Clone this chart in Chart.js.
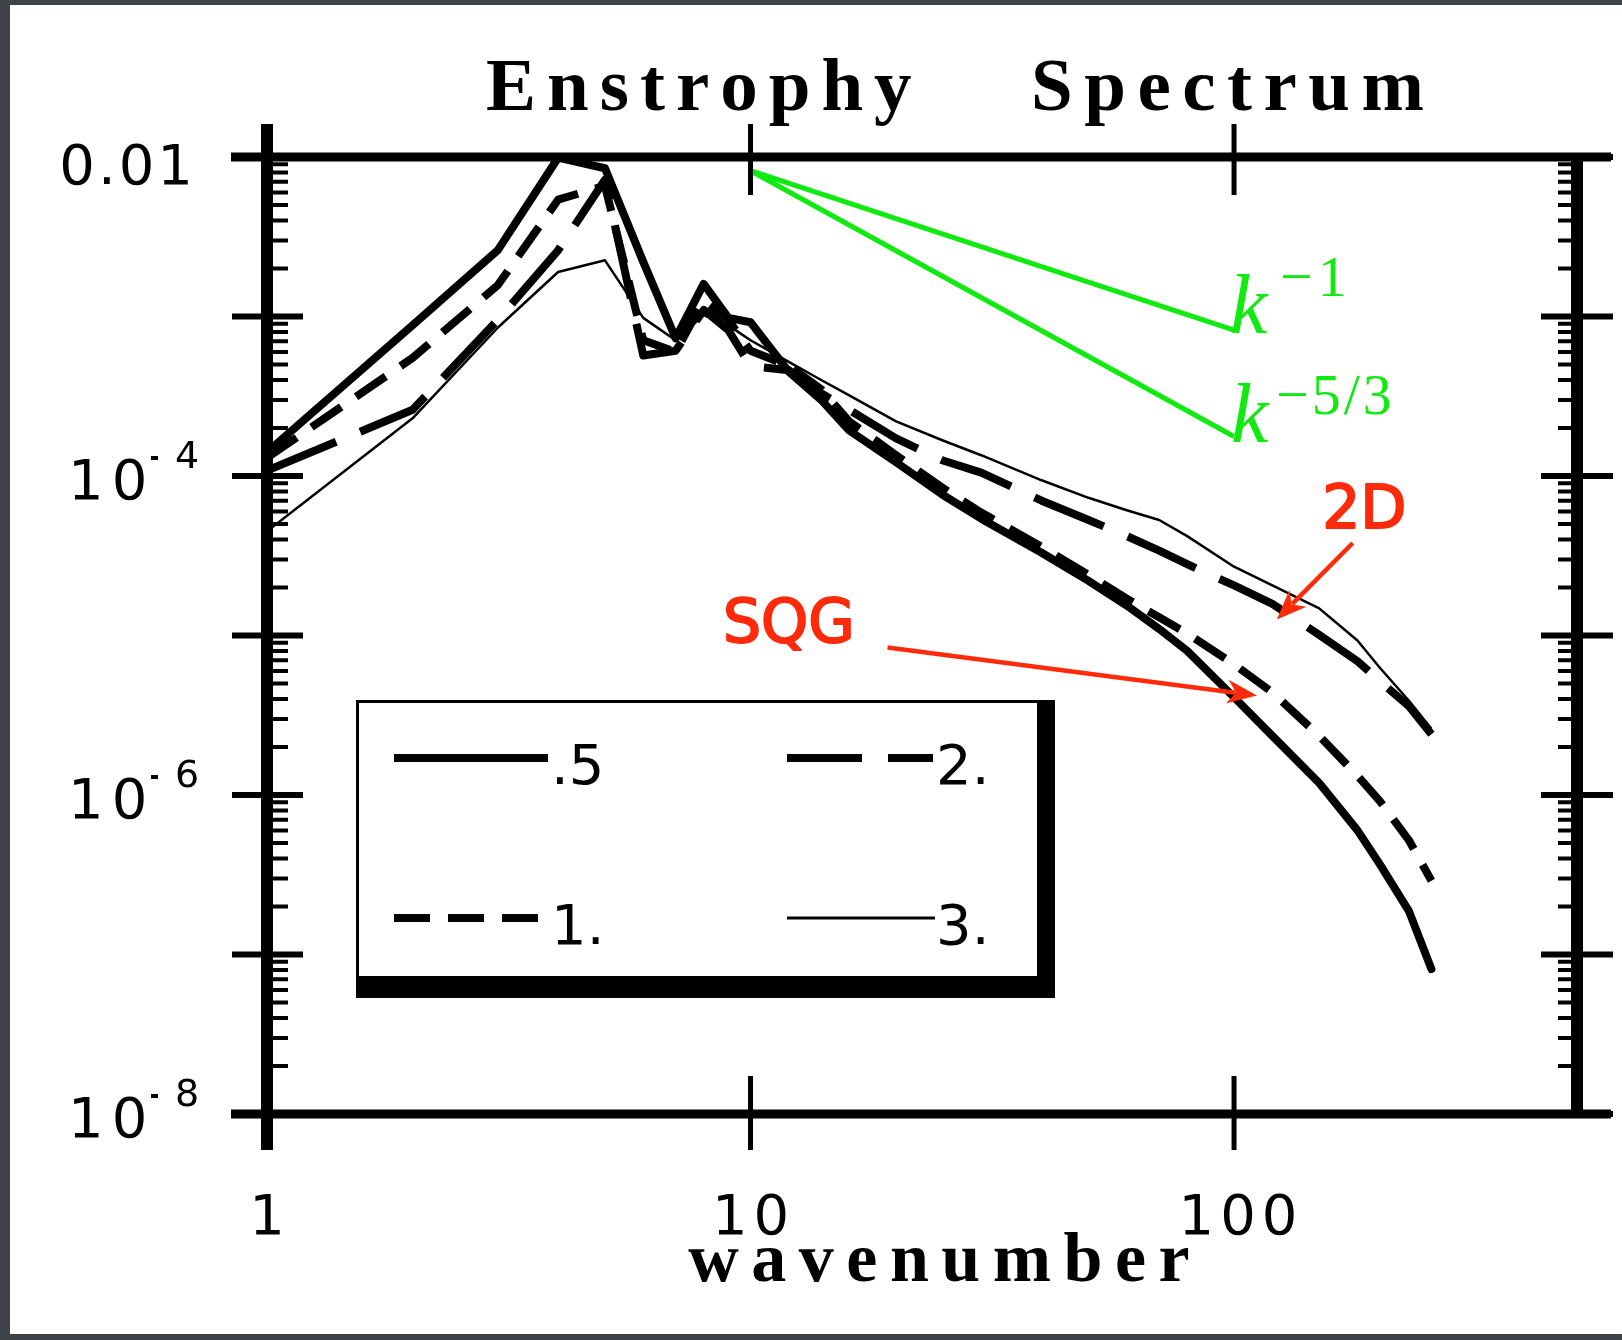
<!DOCTYPE html>
<html>
<head>
<meta charset="utf-8">
<title>Enstrophy Spectrum</title>
<script src="https://cdn.jsdelivr.net/npm/chart.js@4.4.1/dist/chart.umd.min.js"></script>
<style>
  html, body { margin: 0; padding: 0; }
  body { width: 1622px; height: 1340px; background: #3f4247; position: relative; overflow: hidden; }
  #paper { position: absolute; left: 10px; top: 5px; width: 1612px; height: 1329px; background: #fff; }
  #wrap { position: absolute; left: 0; top: 0; width: 1622px; height: 1340px; }
</style>
</head>
<body>
<div id="paper"></div>
<div id="wrap"><canvas id="chart"></canvas></div>
<script>
const wavenumber = [1, 2, 3, 4, 5, 6, 7, 8, 9, 10, 12, 14, 16, 20, 25, 30, 40, 50, 60, 70, 80, 100, 120, 150, 180, 200, 230, 256];

// enstrophy spectra, one per case
const spec05 = [1.41e-4, 8.8e-4, 2.6e-3, 9.9e-3, 8.5e-3, 2.2e-3, 7.3e-4, 1.6e-3, 9.8e-4, 9.2e-4, 4.5e-4, 3.0e-4, 1.93e-4, 1.22e-4, 7.6e-5, 5.4e-5, 3.3e-5, 2.2e-5, 1.54e-5, 1.10e-5, 8.0e-6, 4.1e-6, 2.35e-6, 1.19e-6, 6.0e-7, 3.7e-7, 1.87e-7, 8.1e-8];
const spec1 = [1.30e-4, 5.5e-4, 1.57e-3, 5.4e-3, 6.6e-3, 7.1e-4, 6.0e-4, 1.26e-3, 9.5e-4, 6.1e-4, 4.9e-4, 3.5e-4, 2.2e-4, 1.35e-4, 8.4e-5, 5.9e-5, 3.6e-5, 2.4e-5, 1.70e-5, 1.30e-5, 1.03e-5, 6.6e-6, 4.4e-6, 2.35e-6, 1.32e-6, 9.2e-7, 5.2e-7, 2.9e-7];
const spec2 = [1.08e-4, 2.6e-4, 9.5e-4, 2.6e-3, 7.2e-3, 5.7e-4, 6.1e-4, 1.10e-3, 8.2e-4, 4.9e-4, 4.6e-4, 3.3e-4, 2.6e-4, 1.72e-4, 1.25e-4, 1.05e-4, 7.0e-5, 5.3e-5, 4.2e-5, 3.4e-5, 2.8e-5, 2.06e-5, 1.58e-5, 1.01e-5, 6.9e-6, 5.2e-6, 3.6e-6, 2.4e-6];
const spec3 = [4.5e-5, 2.3e-4, 8.5e-4, 1.9e-3, 2.25e-3, 9.8e-4, 7.1e-4, 1.02e-3, 8.8e-4, 7.1e-4, 5.2e-4, 4.0e-4, 3.2e-4, 2.2e-4, 1.67e-4, 1.35e-4, 9.4e-5, 7.3e-5, 6.1e-5, 5.3e-5, 4.2e-5, 2.7e-5, 2.06e-5, 1.48e-5, 9.3e-6, 6.3e-6, 3.9e-6, 2.6e-6];
const seriesNames = [".5", "1.", "2.", "3."];

// reference slopes drawn in green
const slopeK = [10, 100];
const slopeMinus1 = [0.0082, 0.00082];
const slopeMinus53 = [0.0082, 0.000177];

// red annotations (data coordinates)
const label2D = [186, 5.9e-5];
const arrow2D = [[176, 3.8e-5], [122.6, 1.26e-5]];
const labelSQG = [12.0, 1.14e-5];
const arrowSQG = [[19.2, 8.4e-6], [111.5, 4.2e-6]];

// axis ticks
const xTicks = [1, 10, 100];
const xTickLabels = ["1", "10", "100"];
const yMajor = [1e-2, 1e-3, 1e-4, 1e-5, 1e-6, 1e-7, 1e-8];
const yLabelValues = [1e-2, 1e-4, 1e-6, 1e-8];
const yLabelBase = ["0.01", "10", "10", "10"];
const yLabelSup = ["", "4", "6", "8"];

const pts = (xs, ys) => xs.map((k, i) => ({ x: k, y: ys[i] }));

const LONG_DASH = [75, 26];
const SHORT_DASH = [36, 18];
const GREEN = "#10ea10";
const RED = "#ff2a0a";

function spacedWidth(ctx, text, gap) {
  let w = 0;
  for (const ch of text) w += ctx.measureText(ch).width + gap;
  return w - gap;
}
function spaced(ctx, text, x, y, gap) {
  let cx = x;
  for (const ch of text) {
    ctx.fillText(ch, cx, y);
    cx += ctx.measureText(ch).width + gap;
  }
}

function arrow(ctx, x0, y0, x1, y1) {
  const ang = Math.atan2(y1 - y0, x1 - x0);
  const len = 30, half = 12;
  const bx = x1 - Math.cos(ang) * len, by = y1 - Math.sin(ang) * len;
  ctx.beginPath();
  ctx.moveTo(x0, y0);
  ctx.lineTo(bx + Math.cos(ang) * 8, by + Math.sin(ang) * 8);
  ctx.stroke();
  ctx.beginPath();
  ctx.moveTo(x1, y1);
  ctx.lineTo(bx - Math.sin(ang) * half, by + Math.cos(ang) * half);
  ctx.lineTo(bx + Math.cos(ang) * 9, by + Math.sin(ang) * 9);
  ctx.lineTo(bx + Math.sin(ang) * half, by - Math.cos(ang) * half);
  ctx.closePath();
  ctx.fill();
}

const decorations = {
  id: "decorations",
  afterDatasetsDraw(chart) {
    const { ctx, chartArea: a, scales } = chart;
    const xs = scales.x, ys = scales.y;
    ctx.save();
    ctx.strokeStyle = "#000";
    ctx.fillStyle = "#000";
    ctx.lineCap = "butt";

    // minor y ticks, inside both vertical axes
    ctx.lineWidth = 4;
    ctx.beginPath();
    for (let e = -8; e < -2; e++) {
      for (let m = 2; m <= 9; m++) {
        const py = ys.getPixelForValue(m * Math.pow(10, e));
        ctx.moveTo(a.left, py); ctx.lineTo(a.left + 21, py);
        ctx.moveTo(a.right, py); ctx.lineTo(a.right - 19, py);
      }
    }
    ctx.stroke();

    // major y ticks
    ctx.lineWidth = 6;
    ctx.beginPath();
    for (const v of yMajor) {
      const py = ys.getPixelForValue(v);
      ctx.moveTo(a.left - 35, py); ctx.lineTo(a.left + 36, py);
      ctx.moveTo(a.right - 36, py); ctx.lineTo(a.right + 36, py);
    }
    ctx.stroke();

    // x ticks top and bottom
    ctx.lineWidth = 5;
    ctx.beginPath();
    for (const v of xTicks) {
      const px = xs.getPixelForValue(v);
      ctx.moveTo(px, a.top - 33); ctx.lineTo(px, a.top + 38);
      ctx.moveTo(px, a.bottom - 38); ctx.lineTo(px, a.bottom + 36);
    }
    ctx.stroke();

    // frame
    ctx.lineWidth = 9;
    ctx.beginPath();
    ctx.moveTo(a.left - 36, a.top); ctx.lineTo(a.right + 34, a.top);
    ctx.moveTo(a.left - 36, a.bottom); ctx.lineTo(a.right + 34, a.bottom);
    ctx.stroke();
    ctx.lineWidth = 12;
    ctx.beginPath();
    ctx.moveTo(a.left, a.top - 33); ctx.lineTo(a.left, a.bottom + 36);
    ctx.moveTo(a.right, a.top - 4); ctx.lineTo(a.right, a.bottom + 4);
    ctx.stroke();

    // y labels
    ctx.textBaseline = "alphabetic";
    yLabelValues.forEach((v, i) => {
      const py = ys.getPixelForValue(v);
      if (!yLabelSup[i]) {
        ctx.font = "56px 'DejaVu Sans'";
        const w = spacedWidth(ctx, yLabelBase[i], 3);
        spaced(ctx, yLabelBase[i], a.left - 74 - w, py + 27, 3);
      } else {
        ctx.font = "56px 'DejaVu Sans'";
        spaced(ctx, yLabelBase[i], a.left - 199, py + 23, 8);
        ctx.font = "38px 'DejaVu Sans'";
        ctx.fillRect(a.left - 116, py - 20, 7, 4);
        ctx.fillText(yLabelSup[i], a.left - 92, py - 8);
      }
    });

    // x labels
    ctx.font = "56px 'DejaVu Sans'";
    xTicks.forEach((v, i) => {
      const px = xs.getPixelForValue(v);
      const w = spacedWidth(ctx, xTickLabels[i], 6);
      spaced(ctx, xTickLabels[i], px - w / 2 + (i === 2 ? 4 : 0), a.bottom + 120, 6);
    });

    // axis title
    ctx.font = "bold 70px 'Liberation Serif'";
    const wt = spacedWidth(ctx, "wavenumber", 12.5);
    spaced(ctx, "wavenumber", 939 - wt / 2, 1281, 12.5);

    // chart title
    ctx.font = "bold 75px 'Liberation Serif'";
    spaced(ctx, "Enstrophy", 486, 110, 11);
    spaced(ctx, "Spectrum", 1031, 110, 11.5);

    ctx.restore();
  },
  afterDraw(chart) {
    const { ctx, scales } = chart;
    const xs = scales.x, ys = scales.y;
    const ds = chart.data.datasets;
    ctx.save();

    // legend box with heavy right/bottom edge
    ctx.fillStyle = "#000";
    ctx.fillRect(356, 700, 699, 298);
    ctx.fillStyle = "#fff";
    ctx.fillRect(359, 703, 678, 273);

    const entries = [
      { d: 0, x0: 394, x1: 548, y: 758, tx: 551, ty: 784 },
      { d: 2, x0: 787, x1: 933, y: 758, tx: 936, ty: 784 },
      { d: 1, x0: 394, x1: 550, y: 918, tx: 551, ty: 944 },
      { d: 3, x0: 787, x1: 935, y: 918, tx: 936, ty: 944 }
    ];
    ctx.font = "56px 'DejaVu Sans'";
    ctx.fillStyle = "#000";
    for (const e of entries) {
      const d = ds[e.d];
      ctx.strokeStyle = "#000";
      ctx.lineWidth = Math.max(d.borderWidth, 3);
      ctx.setLineDash(d.borderDash || []);
      ctx.beginPath();
      ctx.moveTo(e.x0, e.y); ctx.lineTo(e.x1, e.y);
      ctx.stroke();
      ctx.setLineDash([]);
      ctx.fillText(d.label, e.tx, e.ty);
    }

    // green slope labels
    ctx.fillStyle = GREEN;
    const e1x = xs.getPixelForValue(slopeK[1]), e1y = ys.getPixelForValue(slopeMinus1[1]);
    const e2x = xs.getPixelForValue(slopeK[1]), e2y = ys.getPixelForValue(slopeMinus53[1]);
    ctx.font = "italic 84px 'Liberation Serif'";
    ctx.fillText("k", e1x - 4, e1y + 3);
    ctx.fillText("k", e2x - 3, e2y + 6);
    ctx.font = "58px 'Liberation Serif'";
    spaced(ctx, "\u22121", e1x + 46, e1y - 34, 5);
    spaced(ctx, "\u22125/3", e2x + 42, e2y - 22, 3);

    // red annotations
    ctx.fillStyle = RED;
    ctx.strokeStyle = RED;
    ctx.lineWidth = 4.5;
    ctx.font = "60px 'DejaVu Sans'";
    ctx.textAlign = "center";
    ctx.textBaseline = "middle";
    const p2D = [xs.getPixelForValue(label2D[0]), ys.getPixelForValue(label2D[1])];
    const pSQG = [xs.getPixelForValue(labelSQG[0]), ys.getPixelForValue(labelSQG[1])];
    ctx.fillText("2D", p2D[0], p2D[1]);
    ctx.fillText("SQG", pSQG[0], pSQG[1]);
    ctx.lineWidth = 2;
    ctx.lineJoin = "round";
    ctx.strokeText("2D", p2D[0], p2D[1]);
    ctx.strokeText("SQG", pSQG[0], pSQG[1]);
    ctx.lineWidth = 4.5;
    for (const ar of [arrow2D, arrowSQG]) {
      arrow(ctx,
        xs.getPixelForValue(ar[0][0]), ys.getPixelForValue(ar[0][1]),
        xs.getPixelForValue(ar[1][0]), ys.getPixelForValue(ar[1][1]));
    }
    ctx.restore();
  }
};

const lineStyle = { pointRadius: 0, tension: 0, fill: false, borderColor: "#000", borderJoinStyle: "round" };

new Chart(document.getElementById("chart"), {
  type: "line",
  data: {
    datasets: [
      { ...lineStyle, label: seriesNames[0], data: pts(wavenumber, spec05), borderWidth: 8, borderCapStyle: "round", order: 1 },
      { ...lineStyle, label: seriesNames[1], data: pts(wavenumber, spec1), borderWidth: 8, borderDash: SHORT_DASH, order: 2 },
      { ...lineStyle, label: seriesNames[2], data: pts(wavenumber, spec2), borderWidth: 8, borderDash: LONG_DASH, order: 3 },
      { ...lineStyle, label: seriesNames[3], data: pts(wavenumber, spec3), borderWidth: 2.5, order: 4 },
      { ...lineStyle, label: "k^-1", data: pts(slopeK, slopeMinus1), borderWidth: 5, borderColor: GREEN, order: 0 },
      { ...lineStyle, label: "k^-5/3", data: pts(slopeK, slopeMinus53), borderWidth: 5, borderColor: GREEN, order: 0 }
    ]
  },
  options: {
    responsive: true,
    maintainAspectRatio: false,
    animation: false,
    devicePixelRatio: 1,
    layout: { padding: { left: 267, right: 45, top: 157, bottom: 226 } },
    scales: {
      x: { type: "logarithmic", min: 1, max: 512, display: false },
      y: { type: "logarithmic", min: 1e-8, max: 1e-2, display: false }
    },
    plugins: {
      legend: { display: false },
      tooltip: { enabled: false }
    }
  },
  plugins: [decorations]
});
</script>
</body>
</html>
